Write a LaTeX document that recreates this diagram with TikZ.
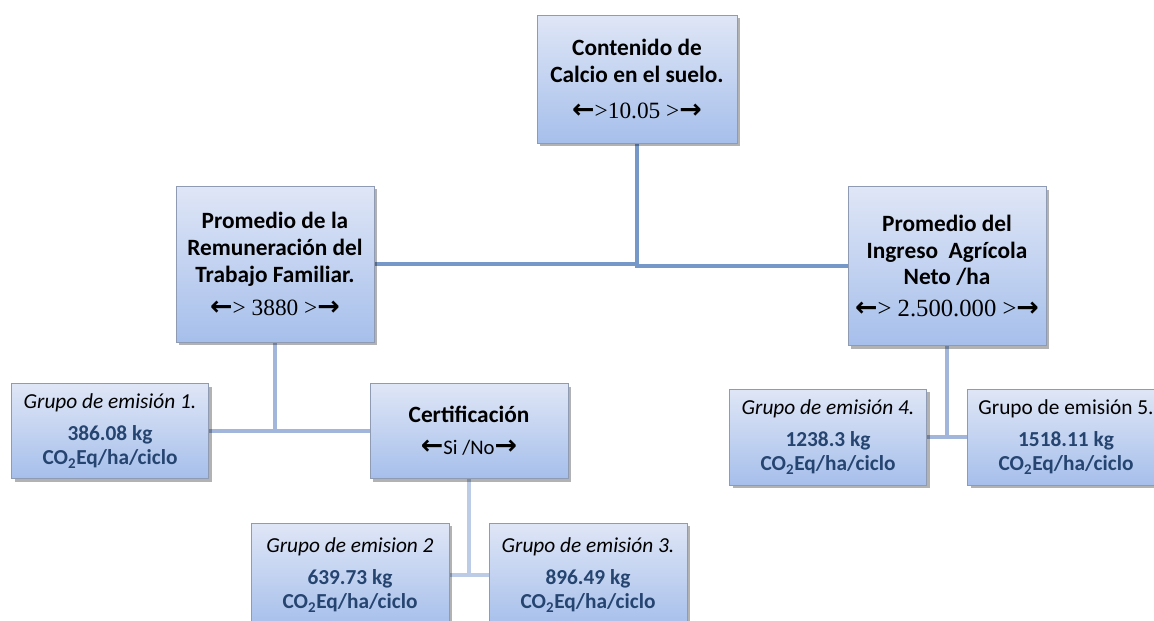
\documentclass[tikz,border=0pt]{standalone}
\usepackage{fontspec}
\setmainfont{Carlito}
\newfontfamily\arrowfont{DejaVu Sans}
\newfontfamily\numfont{Liberation Serif}
\usetikzlibrary{positioning,shadows,backgrounds}

\definecolor{boxtop}{HTML}{DFE6F6}
\definecolor{boxbot}{HTML}{A6BFEB}
\definecolor{boxline}{HTML}{8E9BB2}
\definecolor{linkdark}{HTML}{7698C9}
\definecolor{linkmid}{HTML}{A2B6DB}
\definecolor{linklight}{HTML}{BCCBE6}
\definecolor{valblue}{HTML}{254470}

\newcommand{\arrL}{{\arrowfont\bfseries\scalebox{1.15}{←}}}
\newcommand{\arrR}{{\arrowfont\bfseries\scalebox{1.15}{→}}}
\newcommand{\val}[1]{{\bfseries\color{valblue}#1}}

\begin{document}
\begin{tikzpicture}[x=0.75pt,y=-0.75pt,
  card/.style={draw=boxline, line width=0.6pt, top color=boxtop, bottom color=boxbot,
    drop shadow={shadow xshift=2.5pt, shadow yshift=-2.5pt, opacity=0.3, fill=black},
    align=center, inner sep=2pt, minimum width=148.5pt},
  topcard/.style={card, font=\fontsize{17.5}{20}\selectfont},
  groupcard/.style={card, font=\fontsize{16}{18.5}\selectfont},
  link/.style={draw=linkdark, line width=3pt},
  midlink/.style={draw=linkmid, line width=3pt},
  sublink/.style={draw=linklight, line width=3pt}]
  \useasboundingbox (0,0) rectangle (1154,621);
  \clip (0,0) rectangle (1154,621);

  % upper level
  \node[topcard, minimum height=96pt, minimum width=150pt] (calcio) at (637,79)
    {\bfseries Contenido de\\\bfseries Calcio en el suelo.\\[7pt]
     \arrL{\numfont >10.05 >}\arrR};
  \node[topcard, minimum height=117pt] (remun) at (275,264)
    {\bfseries Promedio de la\\\bfseries Remuneración del\\\bfseries Trabajo Familiar.\\[5pt]
     \arrL{\numfont > 3880 >}\arrR};
  \node[topcard, minimum height=119pt] (ingreso) at (947,266)
    {\bfseries Promedio del\\\bfseries Ingreso~ Agrícola\\\bfseries Neto /ha\\[4pt]
     \arrL{\numfont\fontsize{18.5}{20}\selectfont > 2.500.000 >}\arrR};

  % second level
  \node[topcard, minimum height=71pt] (cert) at (469,431)
    {\bfseries Certificación\\[4pt] \arrL{\fontsize{15.5}{18}\selectfont Si /No}\arrR};
  \node[groupcard, minimum height=71pt, minimum width=148pt] (g1) at (110,431)
    {\itshape Grupo de emisión 1.\\[5pt] \val{386.08 kg}\\ \val{CO\textsubscript{2}Eq/ha/ciclo}};
  \node[groupcard, minimum height=72pt, minimum width=148pt] (g4) at (828,437)
    {\itshape Grupo de emisión 4.\\[5pt] \val{1238.3 kg}\\ \val{CO\textsubscript{2}Eq/ha/ciclo}};
  \node[groupcard, minimum height=72pt, minimum width=148pt] (g5) at (1066,437)
    {Grupo de emisión 5.\\[5pt] \val{1518.11 kg}\\ \val{CO\textsubscript{2}Eq/ha/ciclo}};

  % third level
  \node[groupcard, minimum height=78pt] (g2) at (350,575)
    {\itshape Grupo de emision 2\\[5pt] \val{639.73 kg}\\ \val{CO\textsubscript{2}Eq/ha/ciclo}};
  \node[groupcard, minimum height=78pt] (g3) at (588,575)
    {\itshape Grupo de emisión 3.\\[5pt] \val{896.49 kg}\\ \val{CO\textsubscript{2}Eq/ha/ciclo}};

  \begin{scope}[on background layer]
    \draw[link] (calcio.south) |- (remun.east);
    \draw[link] (calcio.south) |- (ingreso.west);
    \draw[midlink] (remun.south) -- (remun.south |- g1.east);
    \draw[midlink] (g1.east) -- (cert.west);
    \draw[midlink] (ingreso.south) -- (ingreso.south |- g4.east);
    \draw[midlink] (g4.east) -- (g5.west);
    \draw[sublink] (cert.south) -- (cert.south |- g2.east);
    \draw[sublink] (g2.east) -- (g3.west);
  \end{scope}
\end{tikzpicture}
\end{document}
